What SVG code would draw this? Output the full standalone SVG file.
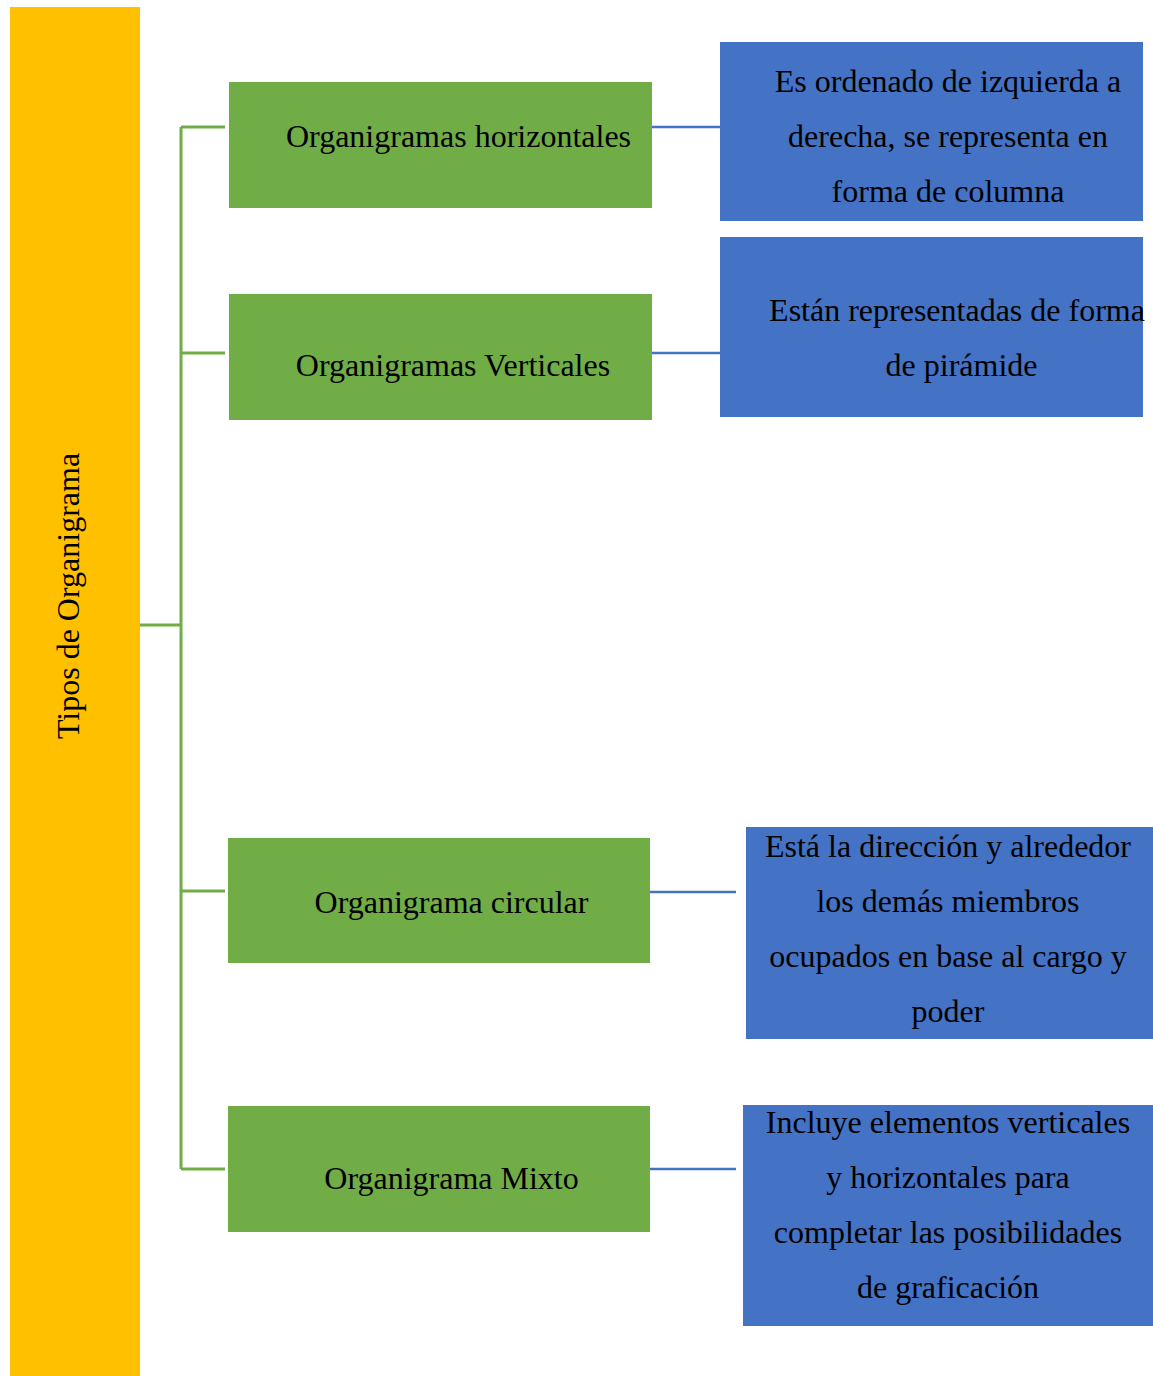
<svg xmlns="http://www.w3.org/2000/svg" width="1153" height="1376" viewBox="0 0 1153 1376">
<style>
  text { font-family: "Liberation Serif", "Times New Roman", serif; font-size: 32px; fill: #000; }
  .c { text-anchor: middle; }
  .yellow { fill: #FFC000; }
  .green { fill: #70AD47; }
  .blue { fill: #4472C4; }
  .gl { stroke: #70AD47; stroke-width: 3; fill: none; }
  .bl { stroke: #4472C4; stroke-width: 2.5; fill: none; }
</style>
<rect width="1153" height="1376" fill="#fff"/>
<g id="connectors">
  <path class="gl" d="M140 625 H181 M181 127 V1169 M181 127 H225 M181 353 H225 M181 891 H225 M181 1169 H225"/>
  <path class="bl" d="M652 127 H720 M652 353 H720 M650 892 H736 M650 1169 H736"/>
</g>
<g id="root">
  <rect class="yellow" x="10" y="7" width="130" height="1369"/>
  <text class="c" transform="translate(79,596) rotate(-90)">Tipos de Organigrama</text>
</g>
<g id="n1">
  <rect class="green" x="229" y="82" width="423" height="126"/>
  <text class="c" x="458.5" y="147">Organigramas horizontales</text>
</g>
<g id="n2">
  <rect class="green" x="229" y="294" width="423" height="126"/>
  <text class="c" x="453" y="376">Organigramas Verticales</text>
</g>
<g id="n3">
  <rect class="green" x="228" y="838" width="422" height="125"/>
  <text class="c" x="451.5" y="913">Organigrama circular</text>
</g>
<g id="n4">
  <rect class="green" x="228" y="1106" width="422" height="126"/>
  <text class="c" x="451.5" y="1189">Organigrama Mixto</text>
</g>
<g id="d1">
  <rect class="blue" x="720" y="42" width="423" height="179"/>
  <text class="c" x="948" y="92">Es ordenado de izquierda a</text>
  <text class="c" x="948" y="147">derecha, se representa en</text>
  <text class="c" x="948" y="202">forma de columna</text>
</g>
<g id="d2">
  <rect class="blue" x="720" y="237" width="423" height="180"/>
  <text class="c" x="957" y="321">Están representadas de forma</text>
  <text class="c" x="961.5" y="376">de pirámide</text>
</g>
<g id="d3">
  <rect class="blue" x="746" y="827" width="407" height="212"/>
  <text class="c" x="948" y="857">Está la dirección y alrededor</text>
  <text class="c" x="948" y="912">los demás miembros</text>
  <text class="c" x="948" y="967">ocupados en base al cargo y</text>
  <text class="c" x="948" y="1022">poder</text>
</g>
<g id="d4">
  <rect class="blue" x="743" y="1105" width="410" height="221"/>
  <text class="c" x="948" y="1133">Incluye elementos verticales</text>
  <text class="c" x="948" y="1188">y horizontales para</text>
  <text class="c" x="948" y="1243">completar las posibilidades</text>
  <text class="c" x="948" y="1298">de graficación</text>
</g>
</svg>
